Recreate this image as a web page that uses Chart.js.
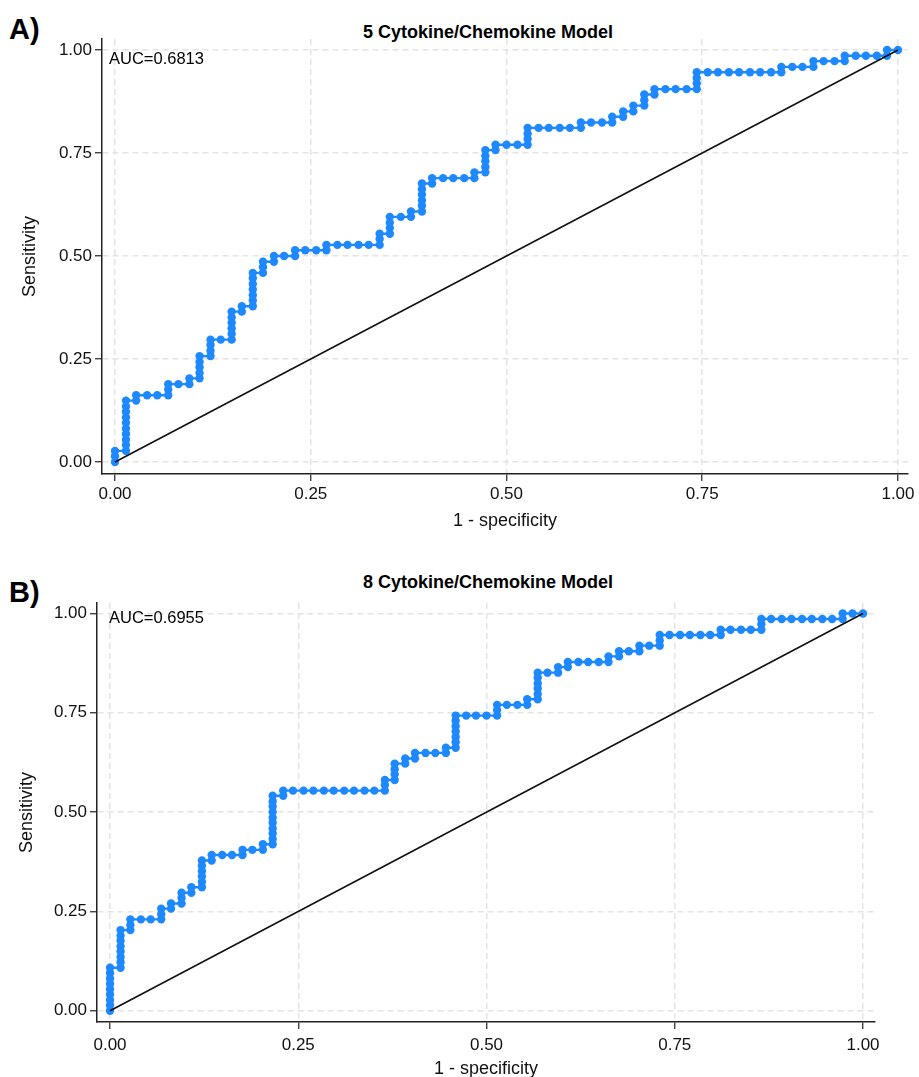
<!DOCTYPE html>
<html><head><meta charset="utf-8">
<script src="https://cdn.jsdelivr.net/npm/chart.js@4.4.1/dist/chart.umd.min.js"></script>
<style>
html,body{margin:0;padding:0;background:#fff;overflow:hidden;}
body{width:919px;height:1077px;position:relative;font-family:"Liberation Sans",Arial,sans-serif;color:#000;}
canvas{position:absolute;left:0;}
.lab{position:absolute;font-weight:bold;font-size:29px;line-height:1;left:9px;}
.ttl{position:absolute;font-weight:bold;font-size:18px;transform:translate(-50%,-50%);white-space:nowrap;left:488px;}
.auc{position:absolute;font-size:16.5px;transform:translateY(-50%);white-space:nowrap;left:109px;}
</style></head><body>
<div class="lab" style="top:15px">A)</div>
<div class="ttl" style="top:32px">5 Cytokine/Chemokine Model</div>
<div class="lab" style="top:578px">B)</div>
<div class="ttl" style="top:582px">8 Cytokine/Chemokine Model</div>
<canvas id="cA" width="919" height="545" style="top:0px"></canvas>
<canvas id="cB" width="919" height="560" style="top:550px"></canvas>
<div class="auc" style="top:58px">AUC=0.6813</div>
<div class="auc" style="top:617px">AUC=0.6955</div>
<script>
// ---- Data ----
const tickVals = [0, 0.25, 0.5, 0.75, 1];
const tickLabels = ['0.00', '0.25', '0.50', '0.75', '1.00'];
const diagX = [0, 1];
const diagY = [0, 1];

// Model A: 5 Cytokine/Chemokine Model (1 - specificity, sensitivity)
const fprA = [0,0,0,
.014,.014,.014,.014,.014,.014,.014,.014,.014,.014,
.027,.027,
.041,.054,.068,.068,.068,
.081,.095,.095,
.108,.108,.108,.108,.108,
.122,.122,.122,.122,
.135,
.149,.149,.149,.149,.149,.149,
.162,.162,
.176,.176,.176,.176,.176,.176,.176,
.189,.189,.189,
.203,.203,
.216,
.230,.230,
.243,.257,.270,.270,
.284,.297,.311,.324,.338,.338,.338,
.351,.351,.351,.351,
.365,
.378,.378,
.392,.392,.392,.392,.392,.392,
.405,.405,
.419,.432,.446,.459,.459,
.473,.473,.473,.473,.473,
.486,.486,
.500,.514,
.527,.527,.527,.527,
.541,.554,.568,.581,.595,.595,
.608,.622,.635,.635,
.649,.649,
.662,.662,
.676,.676,.676,
.689,.689,
.703,.716,.730,.743,.743,.743,.743,
.757,.770,.784,.797,.811,.824,.838,.851,.851,
.865,.878,.892,.892,
.905,.919,.932,.932,
.946,.959,.973,.986,.986,
1];
const tprA = [0,.014,.027,
.027,.041,.054,.068,.081,.095,.108,.122,.135,.149,
.149,.162,
.162,.162,.162,
.176,.189,
.189,.189,
.203,
.203,.216,.230,.243,.257,
.257,.270,.284,.297,
.297,.297,
.311,.324,.338,.351,.365,
.365,.378,
.378,.392,.405,.419,.432,.446,.459,
.459,.473,.486,
.486,.500,
.500,.500,
.514,
.514,.514,.514,
.527,
.527,.527,.527,.527,.527,
.541,.554,
.554,.568,.581,.595,
.595,.595,
.608,
.608,.622,.635,.649,.662,.676,
.676,.689,
.689,.689,.689,.689,
.703,
.703,.716,.730,.743,.757,
.757,.770,
.770,.770,.770,
.784,.797,.811,
.811,.811,.811,.811,.811,
.824,
.824,.824,.824,
.838,
.838,.851,
.851,.865,
.865,.878,.892,
.892,.905,
.905,.905,.905,.905,
.919,.932,.946,
.946,.946,.946,.946,.946,.946,.946,.946,
.959,
.959,.959,.959,
.973,
.973,.973,.973,
.986,
.986,.986,.986,.986,
1,
1];

// Model B: 8 Cytokine/Chemokine Model (1 - specificity, sensitivity)
const fprB = [0,0,0,0,0,0,0,0,0,
.014,.014,.014,.014,.014,.014,.014,.014,
.027,.027,.027,
.041,.054,
.068,.068,.068,
.081,.081,
.095,.095,.095,
.108,.108,
.122,.122,.122,.122,.122,.122,
.135,.135,
.149,.162,
.176,.176,
.189,
.203,.203,
.216,.216,.216,.216,.216,.216,.216,.216,.216,.216,
.230,.230,
.243,.257,.270,.284,.297,.311,.324,.338,.351,
.365,.365,.365,
.378,.378,.378,.378,
.392,.392,
.405,.405,
.419,.432,
.446,.446,
.459,.459,.459,.459,.459,.459,.459,
.473,.486,.500,
.514,.514,.514,
.527,.541,
.554,.554,
.568,.568,.568,.568,.568,.568,
.581,
.595,.595,
.608,.608,
.622,.635,.649,
.662,.662,
.676,.676,
.689,
.703,.703,
.716,
.730,.730,.730,
.743,.757,.770,.784,.797,
.811,.811,
.824,.838,.851,
.865,.865,.865,
.878,.892,.905,.919,.932,.946,.959,
.973,.973,
.986,1];
const tprB = [0,.014,.027,.041,.054,.068,.081,.095,.108,
.108,.122,.135,.149,.162,.176,.189,.203,
.203,.216,.230,
.230,.230,
.230,.243,.257,
.257,.270,
.270,.284,.297,
.297,.311,
.311,.324,.338,.351,.365,.378,
.378,.392,
.392,.392,
.392,.405,
.405,
.405,.419,
.419,.432,.446,.459,.473,.486,.500,.514,.527,.541,
.541,.554,
.554,.554,.554,.554,.554,.554,.554,.554,.554,
.554,.568,.581,
.581,.595,.608,.622,
.622,.635,
.635,.649,
.649,.649,
.649,.662,
.662,.676,.689,.703,.716,.730,.743,
.743,.743,.743,
.743,.757,.770,
.770,.770,
.770,.784,
.784,.797,.811,.824,.838,.851,
.851,
.851,.865,
.865,.878,
.878,.878,.878,
.878,.892,
.892,.905,
.905,
.905,.919,
.919,
.919,.932,.946,
.946,.946,.946,.946,.946,
.946,.959,
.959,.959,.959,
.959,.973,.986,
.986,.986,.986,.986,.986,.986,.986,
.986,1,
1,1];

// ---- Drawing ----
const BLUE = 'rgb(30,137,255)';
const FONT = '"Liberation Sans", Arial, sans-serif';

function pts(xs, ys) { return xs.map((x, i) => ({x: x, y: ys[i]})); }

function makeChart(id, fpr, tpr, L) {
  const setTicks = s => { s.ticks = tickVals.map(v => ({value: v})); };
  const common = {
    type: 'linear',
    afterBuildTicks: setTicks,
    grid: {color: '#e4e4e4', lineWidth: 1.5, tickColor: '#222', tickLength: 7, tickWidth: 1.2},
    border: {display: true, color: '#222', width: 1.5, dash: [6, 4]},
  };
  return new Chart(document.getElementById(id), {
    type: 'scatter',
    data: {
      datasets: [
        {data: pts(diagX, diagY), showLine: true, borderColor: '#111', borderWidth: 1.6,
         pointRadius: 0, pointHoverRadius: 0, fill: false},
        {data: pts(fpr, tpr), showLine: true, borderColor: BLUE, borderWidth: 2.4,
         pointRadius: 4.2, pointHoverRadius: 4.2, pointBackgroundColor: BLUE,
         pointBorderWidth: 0, fill: false}
      ]
    },
    options: {
      responsive: false, animation: false, devicePixelRatio: 1,
      layout: {padding: {left: 0, right: L.padRight, top: L.padTop, bottom: 0}},
      plugins: {legend: {display: false}, tooltip: {enabled: false}, title: {display: false}},
      scales: {
        x: Object.assign({}, common, {
          min: L.xMin, max: L.xMax,
          afterFit: s => { s.height = L.xAxisH; },
          ticks: {callback: (v, i) => tickLabels[i], font: {family: FONT, size: 17}, color: '#111',
                  padding: L.xTickPad, maxRotation: 0, autoSkip: false},
          title: {display: true, text: '1 - specificity', color: '#111',
                  font: {family: FONT, size: 18}, padding: {top: 0, bottom: L.xTitlePad}}
        }),
        y: Object.assign({}, common, {
          min: L.yMin, max: L.yMax,
          afterFit: s => { s.width = L.yAxisW; },
          ticks: {callback: (v, i) => tickLabels[i], font: {family: FONT, size: 17}, color: '#111',
                  padding: 3, autoSkip: false},
          title: {display: true, text: 'Sensitivity', color: '#111',
                  font: {family: FONT, size: 18}, padding: {top: L.yTitlePad, bottom: 0}}
        })
      }
    }
  });
}

// Panel A: canvas top 0, height 545; plot area x 102..908, y 39..474
makeChart('cA', fprA, tprA, {
  padRight: 11, padTop: 39, xAxisH: 545 - 474, yAxisW: 102, xTickPad: 3,
  xMin: -0.0166, xMax: 1.0128, yMin: -0.0291, yMax: 1.0267,
  xTitlePad: 545 - 521 - 10.8, yTitlePad: 30 - 10.8
});
// Panel B: canvas top 550, height 560; plot area x 97..875, y 603..1022
makeChart('cB', fprB, tprB, {
  padRight: 44, padTop: 53, xAxisH: 560 - 472, yAxisW: 97, xTickPad: 6,
  xMin: -0.0173, xMax: 1.0159, yMin: -0.0284, yMax: 1.0264,
  xTitlePad: 560 - 519 - 10.8, yTitlePad: 27 - 10.8
});
</script>
</body></html>
